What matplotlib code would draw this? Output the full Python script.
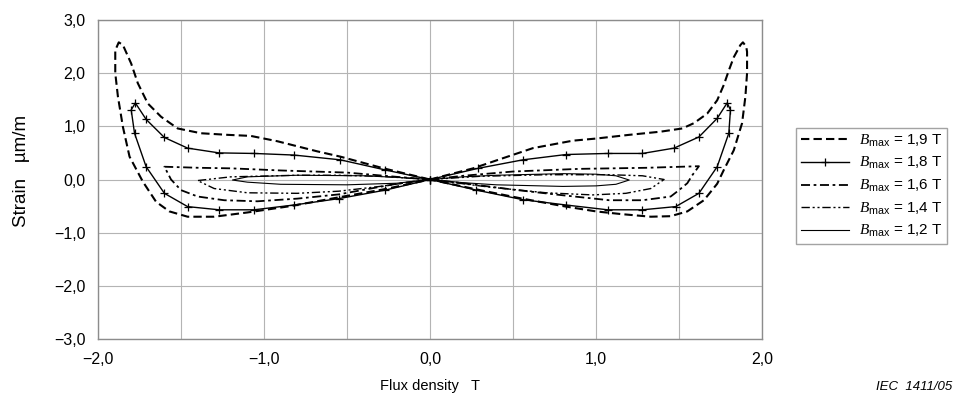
import numpy as np
import matplotlib
matplotlib.use('Agg')
import matplotlib.pyplot as plt

plt.rcParams['font.family'] = ['Liberation Sans', 'DejaVu Sans']
plt.rcParams['mathtext.fontset'] = 'custom'
plt.rcParams['mathtext.it'] = 'Liberation Serif:italic'
plt.rcParams['mathtext.rm'] = 'Liberation Sans'

# butterfly loops: origin -> right lobe -> origin -> left lobe -> origin
b19 = [0, 0.26, 0.42, 0.62, 0.86, 1.0, 1.2, 1.39, 1.52, 1.59, 1.67, 1.73, 1.77, 1.80, 1.83, 1.87, 1.885,
       1.905, 1.91, 1.91, 1.90, 1.88, 1.83, 1.77, 1.73, 1.65, 1.55, 1.45, 1.33, 1.15, 1.0, 0.8, 0.54, 0.27, 0,
       -0.27, -0.54, -0.84, -1.10, -1.30, -1.46, -1.57, -1.65, -1.73, -1.81, -1.85, -1.88, -1.896, -1.896, -1.875,
       -1.85, -1.80, -1.76, -1.70, -1.62, -1.52, -1.38, -1.22, -1.08, -0.92, -0.68, -0.54, -0.28, 0]
s19 = [0, 0.21, 0.38, 0.59, 0.73, 0.77, 0.84, 0.90, 0.96, 1.06, 1.24, 1.49, 1.78, 2.05, 2.30, 2.53, 2.58,
       2.50, 2.40, 2.00, 1.56, 1.06, 0.55, 0.18, -0.08, -0.39, -0.60, -0.69, -0.70, -0.65, -0.60, -0.50, -0.35, -0.18, 0,
       -0.18, -0.33, -0.50, -0.62, -0.70, -0.70, -0.60, -0.42, -0.04, 0.43, 0.99, 1.56, 2.00, 2.43, 2.58,
       2.53, 2.18, 1.81, 1.43, 1.18, 0.96, 0.87, 0.84, 0.82, 0.72, 0.53, 0.43, 0.21, 0]

b18 = [0, 0.29, 0.56, 0.82, 1.07, 1.28, 1.47, 1.62, 1.73, 1.79, 1.81, 1.80, 1.73, 1.62, 1.48, 1.28, 1.07, 0.82, 0.56, 0.28, 0,
       -0.27, -0.55, -0.82, -1.06, -1.27, -1.46, -1.60, -1.71, -1.78, -1.80, -1.775, -1.71, -1.60, -1.46, -1.27, -1.06, -0.82, -0.54, -0.27, 0]
s18 = [0, 0.21, 0.37, 0.47, 0.49, 0.49, 0.59, 0.80, 1.15, 1.44, 1.31, 0.87, 0.24, -0.26, -0.51, -0.57, -0.57, -0.48, -0.38, -0.20, 0,
       -0.20, -0.36, -0.48, -0.57, -0.57, -0.51, -0.26, 0.24, 0.87, 1.31, 1.44, 1.13, 0.79, 0.59, 0.50, 0.49, 0.46, 0.37, 0.18, 0]

b16 = [0, 0.2, 0.5, 0.9, 1.3, 1.62, 1.58, 1.55, 1.50, 1.45, 1.28, 1.08, 0.78, 0.5, 0.2, 0,
       -0.2, -0.55, -0.80, -1.04, -1.24, -1.40, -1.50, -1.56, -1.60, -1.39, -1.20, -0.90, -0.50, -0.2, 0]
s16 = [0, 0.07, 0.15, 0.20, 0.22, 0.25, 0.08, -0.07, -0.20, -0.32, -0.39, -0.39, -0.29, -0.19, -0.07, 0,
       -0.08, -0.28, -0.36, -0.41, -0.39, -0.32, -0.20, 0.0, 0.24, 0.22, 0.21, 0.17, 0.13, 0.05, 0]

b14 = [0, 0.3, 0.7, 1.08, 1.28, 1.41, 1.33, 1.18, 0.98, 0.7, 0.35, 0,
       -0.3, -0.55, -0.80, -1.10, -1.30, -1.40, -1.20, -0.80, -0.55, -0.3, 0]
s14 = [0, 0.06, 0.09, 0.09, 0.07, 0.0, -0.17, -0.26, -0.29, -0.25, -0.14, 0,
       -0.13, -0.22, -0.26, -0.25, -0.17, -0.02, 0.05, 0.08, 0.08, 0.06, 0]

b12 = [0, 0.2, 0.40, 0.80, 1.0, 1.12, 1.20, 1.12, 1.0, 0.80, 0.40, 0.2, 0,
       -0.2, -0.50, -0.90, -1.10, -1.19, -1.10, -0.80, -0.40, -0.2, 0]
s12 = [0, 0.05, 0.08, 0.11, 0.10, 0.07, -0.01, -0.09, -0.12, -0.13, -0.10, -0.06, 0,
       -0.07, -0.10, -0.09, -0.05, -0.01, 0.05, 0.08, 0.07, 0.04, 0]

labels = [r'$B_{\mathrm{max}}$ = 1,9 T', r'$B_{\mathrm{max}}$ = 1,8 T', r'$B_{\mathrm{max}}$ = 1,6 T',
          r'$B_{\mathrm{max}}$ = 1,4 T', r'$B_{\mathrm{max}}$ = 1,2 T']
xticks = [-2, -1, 0, 1, 2]
xticklabels = ['\u22122,0', '\u22121,0', '0,0', '1,0', '2,0']
yticks = [-3, -2, -1, 0, 1, 2, 3]
yticklabels = ['\u22123,0', '\u22122,0', '\u22121,0', '0,0', '1,0', '2,0', '3,0']

fig = plt.figure(figsize=(9.57, 4.05), dpi=100)
ax = fig.add_axes([98/957, 1-339/405, (762-98)/957, (339-20)/405])

ax.plot(b19, s19, color='black', lw=1.5, dashes=(4, 2), label=labels[0])
ax.plot(b18, s18, color='black', lw=1.0, marker='+', ms=6, mew=0.9, label=labels[1])
ax.plot(b16, s16, color='black', lw=1.3, dashes=(5, 2, 1.5, 2), label=labels[2])
ax.plot(b14, s14, color='black', lw=1.0, dashes=(6, 2, 1.5, 2, 1.5, 2), label=labels[3])
ax.plot(b12, s12, color='black', lw=0.8, label=labels[4])

ax.set_xlim(-2, 2)
ax.set_ylim(-3, 3)
ax.set_xticks(xticks)
ax.set_xticklabels(xticklabels)
ax.set_xticks(np.arange(-1.5, 2, 1.0), minor=True)
ax.set_yticks(yticks)
ax.set_yticklabels(yticklabels)
ax.tick_params(which='both', length=0, labelsize=11.5, pad=9)
ax.grid(True, which='both', color='#b4b4b4', lw=0.8)
ax.set_axisbelow(True)
for d in ['left', 'top', 'bottom', 'right']:
    ax.spines[d].set_color('#8c8c8c')
    ax.spines[d].set_linewidth(1.0)

fig.text(22/957, 1-171/405, 'Strain   \u00b5m/m', rotation=90, ha='center', va='center', fontsize=13.5)
fig.text(430/957, 1-386/405, 'Flux density   T', ha='center', va='center', fontsize=10.5)
fig.text(952/957, 1-387/405, 'IEC  1411/05', ha='right', va='center', fontsize=9.5, style='italic')

leg = ax.legend(loc='upper left', bbox_to_anchor=(796/957, 1-128/405), bbox_transform=fig.transFigure,
                borderaxespad=0, fancybox=False, frameon=True, fontsize=11, handlelength=3.2,
                handletextpad=0.6, labelspacing=0.43, borderpad=0.3, numpoints=1)
leg.get_frame().set_edgecolor('#8c8c8c')
leg.get_frame().set_linewidth(1.0)

plt.savefig('out.png', dpi=100)
